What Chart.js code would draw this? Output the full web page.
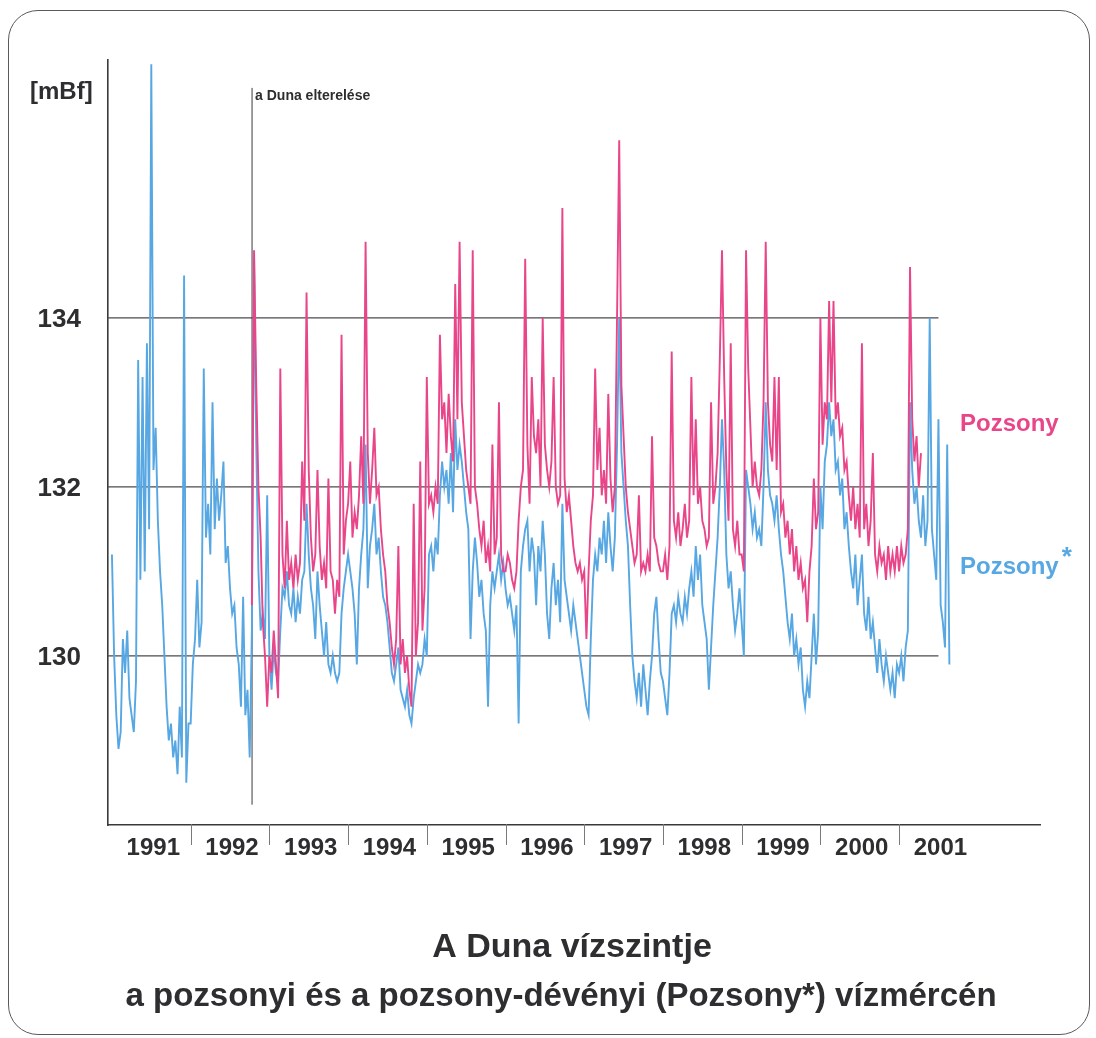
<!DOCTYPE html>
<html lang="hu">
<head>
<meta charset="utf-8">
<title>A Duna vízszintje</title>
<script src="https://cdn.jsdelivr.net/npm/chart.js@4.4.1/dist/chart.umd.min.js"></script>
<style>
  html, body { margin: 0; padding: 0; background: #fff; }
  #wrap { position: relative; width: 1096px; height: 1038px; overflow: hidden; }
  #frame { position: absolute; left: 8px; top: 10px; width: 1082px; height: 1025px;
           border: 1.5px solid #5a5a5a; border-radius: 30px; box-sizing: border-box; }
  canvas { position: absolute; left: 0; top: 0; }
</style>
</head>
<body>
<div id="wrap">
  <div id="frame"></div>
  <canvas id="chart" width="1096" height="1038"></canvas>
</div>
<script>
// Danube water level [mBf], sampled every ~10 days (36 samples per year).
const SAMPLES_PER_YEAR = 36;

// Pozsony* (Bratislava-Devín gauge), from the start of 1991
const blueStart = 1991;
const pozsonyCsillag = [
  // 1991
  131.2,130.0,129.3,128.9,129.1,130.2,129.8,130.3,129.5,129.3,129.1,129.7,133.5,130.9,133.3,131.0,133.7,131.5,
  137.0,132.2,132.7,131.6,131.0,130.6,130.0,129.4,129.0,129.2,128.8,129.0,128.6,129.4,128.8,134.5,128.5,129.2,
  // 1992
  129.2,129.9,130.2,130.9,130.1,130.4,133.4,131.4,131.8,131.2,133.0,131.5,132.1,131.6,131.9,132.3,131.1,131.3,
  130.8,130.5,130.6,130.1,129.9,129.4,130.7,129.3,129.6,128.8,130.3,134.7,132.5,131.0,130.3,130.5,130.2,131.9,
  // 1993
  130.0,129.6,130.1,129.8,129.7,130.3,130.8,130.7,131.0,130.6,130.5,130.8,130.4,130.7,130.5,130.9,131.0,131.8,
  131.2,130.8,130.6,130.2,131.0,130.6,130.3,130.0,130.4,129.9,129.8,130.0,129.8,129.7,129.8,130.5,130.8,131.0,
  // 1994
  131.2,131.0,130.8,130.5,129.9,130.8,131.2,131.5,132.5,130.8,131.3,131.5,131.8,131.2,131.4,131.0,130.7,130.6,
  130.4,130.1,129.8,129.7,129.9,130.1,129.6,129.5,129.4,129.6,129.3,129.2,129.5,129.7,129.9,129.8,129.9,130.2,
  // 1995
  130.0,131.2,131.3,131.0,131.4,131.2,131.9,132.3,132.0,132.2,131.8,132.4,131.7,132.8,132.2,132.5,132.3,132.0,
  131.7,131.5,130.2,131.0,131.4,131.1,130.7,130.9,130.5,130.3,129.4,130.6,131.0,130.8,131.0,131.2,130.9,131.1,
  // 1996
  130.8,130.6,130.7,130.5,130.3,130.6,129.2,131.0,131.3,131.5,131.6,131.0,131.4,131.2,130.6,131.3,131.0,131.6,
  131.2,130.5,130.2,130.8,131.1,130.6,130.9,130.4,131.8,130.9,130.7,130.5,130.3,130.6,130.4,130.2,130.0,129.8,
  // 1997
  129.6,129.4,129.3,130.2,130.9,131.2,131.0,131.4,131.2,131.6,131.1,131.7,131.3,131.0,131.4,132.5,134.0,132.4,
  132.0,131.6,131.3,130.6,130.0,129.7,129.5,129.8,129.4,129.9,129.6,129.3,129.7,130.0,130.5,130.7,130.2,129.8,
  // 1998
  129.7,129.5,129.3,129.8,130.5,130.6,130.4,130.7,130.5,130.4,130.7,130.5,130.8,131.0,130.7,131.3,130.9,131.2,
  130.6,130.4,130.2,129.6,130.1,130.6,131.0,131.4,132.0,132.8,132.2,131.2,130.8,131.0,130.6,130.3,130.5,130.8,
  // 1999
  130.4,130.0,132.2,132.0,131.8,131.5,131.7,131.4,131.5,131.3,132.0,133.0,132.2,131.9,131.8,131.6,131.9,131.5,
  131.2,131.0,130.7,130.4,130.2,130.5,130.0,130.2,129.9,130.1,129.6,129.4,129.7,129.5,130.0,130.5,129.9,130.3,
  // 2000
  132.0,131.5,132.3,132.5,133.0,132.6,132.8,132.2,132.3,131.9,132.1,131.5,131.7,131.3,131.0,130.8,131.2,130.6,
  130.9,131.2,130.5,130.3,130.7,130.2,130.4,130.1,129.8,130.2,129.9,129.7,130.0,129.8,129.6,129.8,129.5,129.9,
  // 2001
  129.8,130.0,129.7,130.1,130.3,133.0,132.2,131.8,132.0,131.6,131.4,131.9,131.3,131.6,134.0,131.5,131.2,130.9,
  132.8,130.6,130.4,130.1,132.5,129.9
];

// Pozsony (Bratislava gauge), from the diversion of the Danube onwards
const pinkStart = 1992 + 28 / SAMPLES_PER_YEAR;
const pozsony = [
  // 1992 (from late October)
  130.6,134.8,133.2,132.0,131.4,130.4,130.0,129.4,
  // 1993
  130.0,129.8,130.3,129.9,129.5,133.4,131.2,130.8,131.6,130.9,131.1,130.8,131.2,130.9,131.1,132.3,131.6,134.3,
  132.2,131.4,131.0,131.2,132.2,131.3,130.9,131.1,130.8,132.1,131.0,130.9,130.5,130.9,130.7,133.8,131.2,131.6,
  // 1994
  131.8,132.3,131.4,131.7,131.5,131.9,132.6,131.8,134.9,132.4,131.8,132.2,132.7,131.9,132.0,131.5,131.2,131.0,
  130.6,130.4,130.1,129.9,130.2,131.3,129.9,130.2,129.8,130.0,129.6,129.4,131.8,130.0,130.4,132.3,130.3,130.8,
  // 1995
  133.3,131.8,131.9,131.7,132.0,131.8,133.8,132.8,133.0,132.4,133.1,132.6,132.3,134.4,132.8,134.9,133.0,132.6,
  132.2,132.0,131.8,134.8,132.0,131.8,131.5,131.3,131.6,131.1,131.3,131.0,132.5,131.2,131.4,133.0,131.2,131.0,
  // 1996
  131.0,131.2,131.1,130.9,130.8,131.0,131.6,132.0,132.2,134.7,132.5,131.8,133.3,132.6,132.4,132.8,132.0,134.0,
  132.5,132.2,132.0,132.3,133.3,132.0,131.8,131.9,135.3,132.1,131.7,131.9,131.6,131.3,131.1,131.0,131.1,130.9,
  // 1997
  131.0,130.2,131.0,131.6,131.9,133.4,132.2,132.7,131.9,132.2,131.8,133.1,132.1,131.7,132.0,134.0,136.1,133.2,
  132.6,132.0,131.7,131.5,131.3,131.1,131.2,131.9,131.0,131.1,131.0,131.2,131.0,132.6,131.4,131.3,131.1,131.0,
  // 1998
  131.0,131.2,130.9,131.3,133.6,131.6,131.4,131.7,131.3,131.5,131.8,131.4,131.6,133.3,131.9,132.8,131.8,132.0,
  131.6,131.5,131.3,131.4,133.0,131.8,132.0,132.4,133.5,134.8,133.3,132.2,131.6,133.7,131.5,131.3,131.6,131.2,
  // 1999
  131.2,131.0,134.8,133.4,132.7,132.0,132.3,132.0,131.9,132.2,133.0,134.9,133.0,132.5,132.3,133.3,132.2,133.3,
  131.7,131.8,131.4,131.6,131.2,131.5,131.0,131.3,130.9,131.1,130.8,130.9,130.4,131.0,131.3,132.1,131.5,131.7,
  // 2000
  134.0,132.5,133.0,132.8,134.2,133.0,134.2,132.8,133.0,132.6,132.7,132.2,132.3,131.9,131.6,132.0,131.5,131.8,
  131.4,133.7,131.5,131.8,131.3,131.6,132.4,131.2,131.0,131.3,131.1,131.2,130.9,131.3,131.0,131.2,131.0,131.3,
  // 2001
  131.0,131.3,131.1,131.2,131.5,134.6,132.8,132.3,132.6,132.0,132.4
];

const yearLabels = ['1991','1992','1993','1994','1995','1996','1997','1998','1999','2000','2001'];
const levelTicks = [130, 132, 134];
const diversionYear = 1992.78;   // a Duna elterelése (October 1992)

const toPoints = (start, values) =>
  values.map((v, i) => ({ x: start + i / SAMPLES_PER_YEAR, y: v }));

const INK = '#2e2e30';
const PINK = '#e9468a';
const BLUE = '#57a7e3';
const FONT = '"Liberation Sans", Arial, sans-serif';

const decorations = {
  id: 'decorations',
  beforeDatasetsDraw(chart) {
    const { ctx, scales: { x, y } } = chart;
    ctx.save();
    // horizontal level lines, ending in mid-2001
    ctx.strokeStyle = '#4b4a50';
    ctx.lineWidth = 1.2;
    const gridEnd = x.getPixelForValue(2001.5);
    levelTicks.forEach(v => {
      const py = y.getPixelForValue(v);
      ctx.beginPath();
      ctx.moveTo(x.left, py);
      ctx.lineTo(gridEnd, py);
      ctx.stroke();
    });
    // diversion marker line
    const dx = x.getPixelForValue(diversionYear);
    ctx.strokeStyle = '#3a3a3a';
    ctx.lineWidth = 1;
    ctx.beginPath();
    ctx.moveTo(dx, y.getPixelForValue(136.72));
    ctx.lineTo(dx, y.getPixelForValue(128.24));
    ctx.stroke();
    ctx.restore();
  },
  afterDraw(chart) {
    const { ctx, scales: { x, y } } = chart;
    ctx.save();
    ctx.textBaseline = 'middle';

    // year separators below the axis
    ctx.strokeStyle = '#7a7a7a';
    ctx.lineWidth = 1;
    for (let yr = 1992; yr <= 2001; yr++) {
      const px = Math.round(x.getPixelForValue(yr)) + 0.5;
      ctx.beginPath();
      ctx.moveTo(px, y.bottom - 1);
      ctx.lineTo(px, y.bottom + 20);
      ctx.stroke();
    }
    // year labels centred in each year
    ctx.fillStyle = INK;
    ctx.font = 'bold 24px ' + FONT;
    ctx.textAlign = 'center';
    yearLabels.forEach((lab, i) => {
      ctx.fillText(lab, x.getPixelForValue(1991 + i + 0.5) + 2, y.bottom + 23);
    });

    // level labels
    ctx.font = 'bold 26px ' + FONT;
    ctx.textAlign = 'right';
    levelTicks.forEach(v => ctx.fillText(String(v), 81, y.getPixelForValue(v) + 2));
    ctx.font = 'bold 24px ' + FONT;
    ctx.textAlign = 'left';
    ctx.fillText('[mBf]', 30, 92);

    // diversion caption
    ctx.font = 'bold 14px ' + FONT;
    ctx.fillText('a Duna elterelése', x.getPixelForValue(diversionYear) + 3, 96);

    // series names
    ctx.font = 'bold 24px ' + FONT;
    ctx.fillStyle = PINK;
    ctx.fillText('Pozsony', 960, 424);
    ctx.fillStyle = BLUE;
    ctx.fillText('Pozsony', 960, 567);
    const w = ctx.measureText('Pozsony').width;
    ctx.font = 'bold 26px ' + FONT;
    ctx.fillText('*', 960 + w + 3, 558);

    // title
    ctx.fillStyle = INK;
    ctx.textAlign = 'center';
    ctx.font = 'bold 34px ' + FONT;
    ctx.fillText('A Duna vízszintje', 572, 948);
    ctx.font = 'bold 33px ' + FONT;
    ctx.fillText('a pozsonyi és a pozsony-dévényi (Pozsony*) vízmércén', 561, 997);
    ctx.restore();
  }
};

new Chart(document.getElementById('chart'), {
  type: 'line',
  data: {
    datasets: [
      { label: 'Pozsony', data: toPoints(pinkStart, pozsony), borderColor: PINK,
        borderWidth: 1.9, pointRadius: 0, tension: 0, order: 0 },
      { label: 'Pozsony*', data: toPoints(blueStart, pozsonyCsillag), borderColor: BLUE,
        borderWidth: 1.9, pointRadius: 0, tension: 0, order: 1 }
    ]
  },
  options: {
    responsive: false,
    animation: false,
    devicePixelRatio: 1,
    layout: { padding: { left: 108, top: 60, right: 56, bottom: 213 } },
    plugins: { legend: { display: false }, tooltip: { enabled: false }, title: { display: false } },
    scales: {
      x: {
        type: 'linear', min: 1990.95, max: 2002.79,
        grid: { display: false, drawTicks: false },
        ticks: { display: false },
        border: { display: true, color: '#3a3a3a', width: 1.6 },
        afterFit: s => { s.height = 0; }
      },
      y: {
        min: 128, max: 137.05,
        grid: { display: false, drawTicks: false },
        ticks: { display: false },
        border: { display: true, color: '#3a3a3a', width: 1.6 },
        afterFit: s => { s.width = 0; }
      }
    }
  },
  plugins: [decorations]
});
</script>
</body>
</html>
